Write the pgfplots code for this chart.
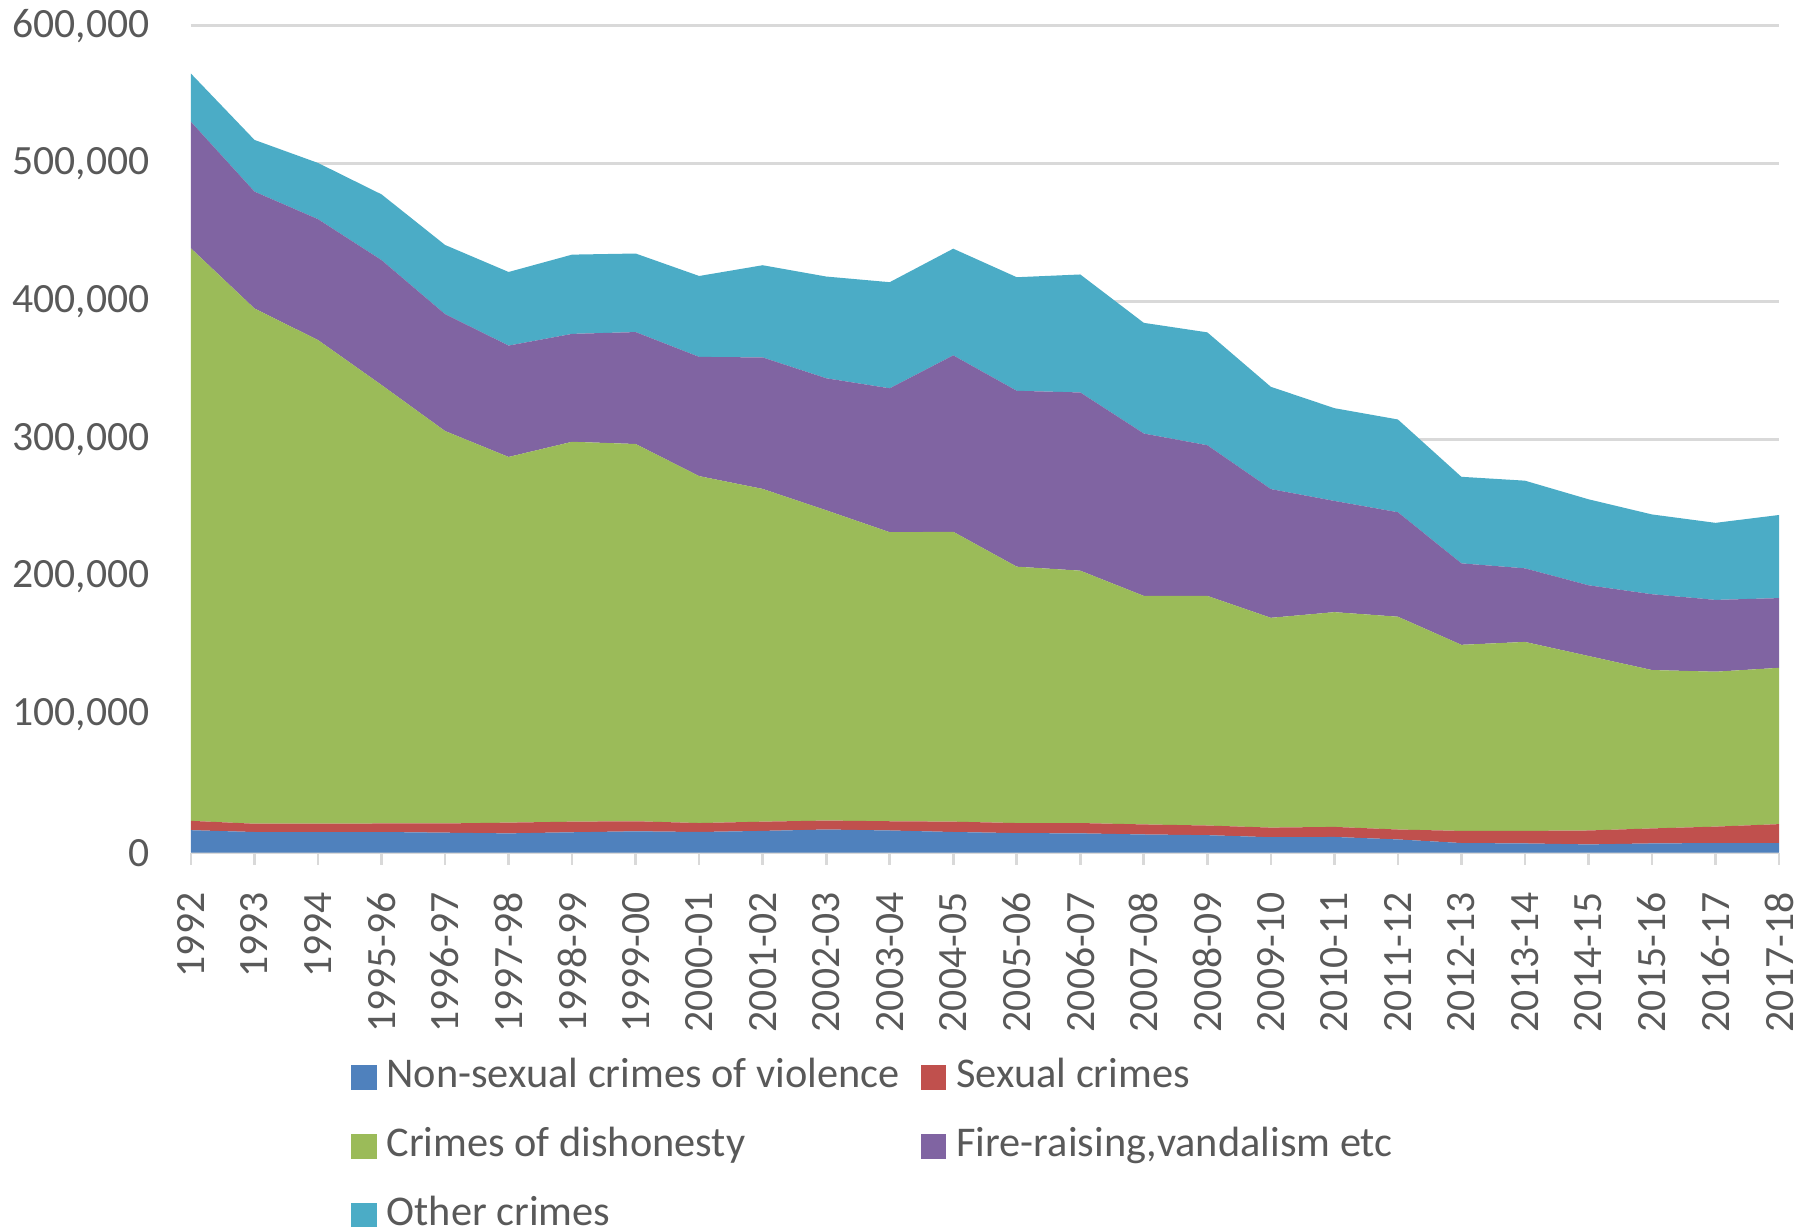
\documentclass[border=0pt]{standalone}
\usepackage{pgfplots}
\usepackage{pgfplotstable}
\pgfplotsset{compat=1.18}
\usepackage{fontspec}
\setmainfont{Carlito}
\definecolor{cblue}{HTML}{4F81BD}
\definecolor{cred}{HTML}{C0504D}
\definecolor{cgreen}{HTML}{9BBB59}
\definecolor{cpurple}{HTML}{8064A2}
\definecolor{ccyan}{HTML}{4BACC6}
\definecolor{gridgray}{HTML}{D9D9D9}
\definecolor{labgray}{HTML}{595959}

\pgfplotstableread{
x  blue   red    green   purple  cyan
0  16300  6800   415300  91800   35000
1  15000  6000   373800  84800   37500
2  15000  6000   350900  87700   40800
3  15000  6200   318100  90600   47700
4  14500  6700   284700  84800   50200
5  14000  7800   265300  80800   53400
6  14800  7700   275600  78300   57500
7  15500  7300   273700  81200   57000
8  15000  6500   251700  86500   58700
9  15800  6700   241400  95400   66900
10 16800  6500   225100  95800   73800
11 16100  6700   209700  104400  77000
12 15000  7500   210300  128000  77400
13 14200  7300   186000  127600  82400
14 14000  7500   183100  129300  85600
15 13200  7300   165800  117800  80300
16 12700  7000   166600  109300  81900
17 11200  7000   152200  93400   74200
18 11400  7300   155800  80700   67300
19 9600   7200   154400  75800   67300
20 7000   8800   135000  59100   62800
21 6700   9100   137100  53400   63600
22 6000   10100  126600  51300   62400
23 6700   10900  114900  55000   57900
24 7000   11900  112400  52100   55900
25 7000   13700  113400  50600   60300
}\crimes

\begin{document}
\begin{tikzpicture}
\path[use as bounding box] (-57.3pt,-112.0pt) rectangle (486.9pt,255.8pt);
\begin{axis}[
  width=476.4pt, height=248.1pt, scale only axis,
  xmin=0, xmax=25, ymin=0, ymax=600000,
  xtick={0,...,25},
  xticklabels={1992,1993,1994,1995-96,1996-97,1997-98,1998-99,1999-00,2000-01,2001-02,2002-03,2003-04,2004-05,2005-06,2006-07,2007-08,2008-09,2009-10,2010-11,2011-12,2012-13,2013-14,2014-15,2015-16,2016-17,2017-18},
  ytick={0,100000,200000,300000,400000,500000,600000},
  scaled y ticks=false,
  /pgf/number format/fixed,
  /pgf/number format/1000 sep={,},
  /pgf/number format/assume math mode=true,
  stack plots=y,
  axis x line*=bottom, axis y line*=left,
  y axis line style={draw=none},
  x axis line style={draw=gridgray, line width=0.8pt, -},
  ymajorgrids, grid style={draw=gridgray, line width=0.8pt},
  tick align=outside,
  xtick style={draw=gridgray, line width=0.8pt},
  ytick style={draw=none},
  major tick length=3.6pt,
  tick label style={font=\fontsize{12.5}{15}\selectfont, text=labgray},
  xticklabel style={rotate=90, anchor=east, inner ysep=0pt, inner xsep=8.2pt},
  yticklabel style={inner xsep=0pt, xshift=-8.7pt},
  legend columns=2,
  legend image code/.code={\fill[#1] (0pt,-3.8pt) rectangle (7.6pt,3.8pt);},
  legend style={draw=none, fill=none, inner sep=0pt,
    at={(axis description cs:0.1005,-0.3555)}, anchor=west,
    font=\fontsize{12.7}{15}\selectfont, text=labgray,
    nodes={inner sep=0pt, text height=9pt, text depth=3pt},
    row sep=8.75pt,
    /tikz/every odd column/.append style={column sep=3pt},
    /tikz/every even column/.append style={column sep=6.5pt}},
  legend cell align=left,
]
\addplot[fill=cblue, draw=none] table[x=x, y=blue]{\crimes} \closedcycle;
\addlegendentry{Non-sexual crimes of violence}
\addplot[fill=cred, draw=none] table[x=x, y=red]{\crimes} \closedcycle;
\addlegendentry{Sexual crimes}
\addplot[fill=cgreen, draw=none] table[x=x, y=green]{\crimes} \closedcycle;
\addlegendentry{Crimes of dishonesty}
\addplot[fill=cpurple, draw=none] table[x=x, y=purple]{\crimes} \closedcycle;
\addlegendentry{Fire-raising,vandalism etc}
\addplot[fill=ccyan, draw=none] table[x=x, y=cyan]{\crimes} \closedcycle;
\addlegendentry{Other crimes}
\end{axis}
\end{tikzpicture}
\end{document}
